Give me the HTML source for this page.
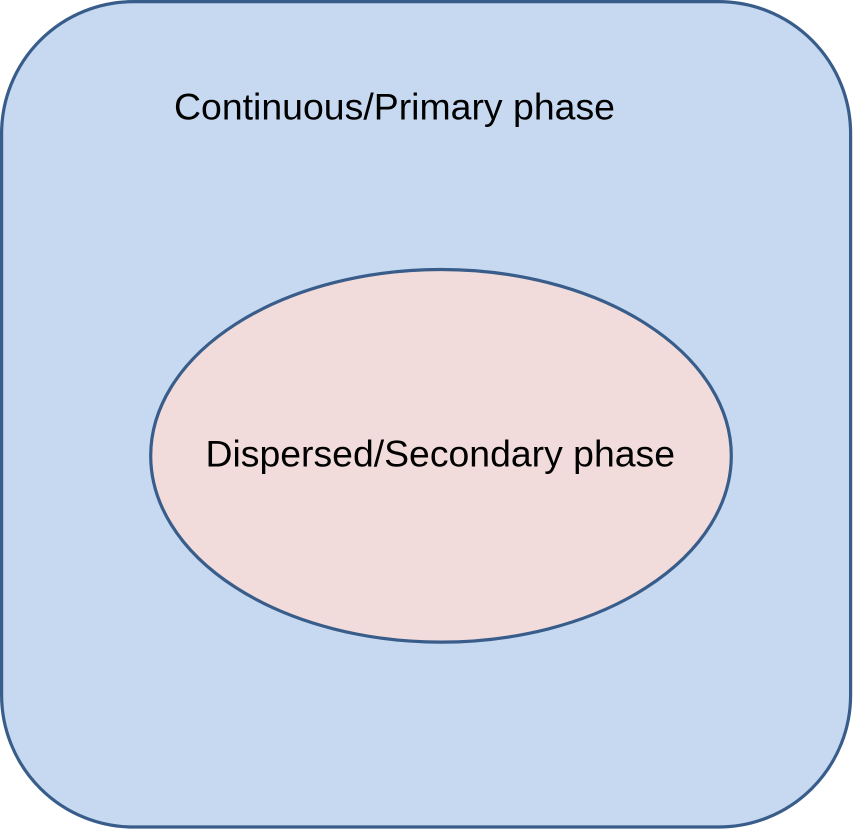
<!DOCTYPE html>
<html>
<head>
<meta charset="utf-8">
<style>
  html, body { margin: 0; padding: 0; background: #ffffff; }
  body { width: 854px; height: 829px; overflow: hidden; }
  svg { display: block; }
  text { font-family: "Liberation Sans", Arial, sans-serif; fill: #000000; }
</style>
</head>
<body>
<svg width="854" height="829" viewBox="0 0 854 829" xmlns="http://www.w3.org/2000/svg">
  <rect x="1.6" y="1.6" width="849" height="825.4" rx="132" ry="132" fill="#c6d9f1" stroke="#385d8a" stroke-width="3.2"/>
  <text x="174" y="119.5" font-size="37" textLength="441" lengthAdjust="spacingAndGlyphs">Continuous/Primary phase</text>
  <ellipse cx="441" cy="455.8" rx="290.3" ry="186.3" fill="#f2dcdb" stroke="#385d8a" stroke-width="3.2"/>
  <text x="205.5" y="466.5" font-size="37.3" textLength="469.5" lengthAdjust="spacingAndGlyphs">Dispersed/Secondary phase</text>
</svg>
</body>
</html>
